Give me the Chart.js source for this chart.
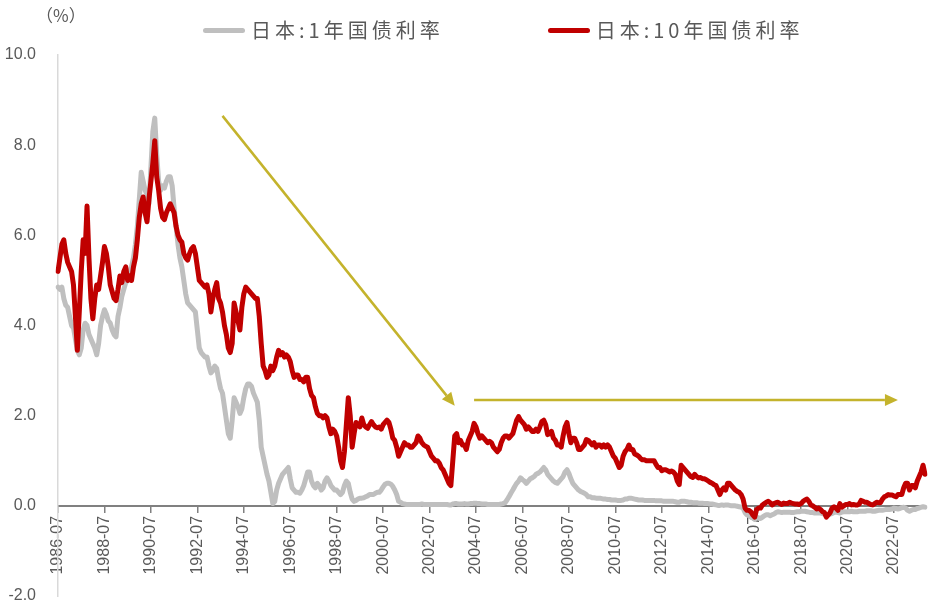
<!DOCTYPE html>
<html>
<head>
<meta charset="utf-8">
<script src="https://cdn.jsdelivr.net/npm/chart.js@4.4.1/dist/chart.umd.min.js"></script>
<style>
  body { margin: 0; background: #fff; }
  #wrap { position: relative; width: 930px; height: 608px; }
  #unit { position: absolute; left: 36px; top: 2px; font: 17px "Noto Sans CJK SC"; color: #595959; }
  #legend { position: absolute; left: 203px; top: 17px; display: flex; align-items: center;
            font: 20px "Noto Sans CJK SC"; color: #595959; line-height: 26px; }
  .item { display: flex; align-items: center; margin-right: 104px; }
  .swatch { display: inline-block; width: 42px; height: 5px; border-radius: 3px; margin-right: 6px; }
  .txt { letter-spacing: 4px; }
</style>
</head>
<body>
<div id="wrap">
  <canvas id="chart" width="930" height="608"></canvas>
  <div id="unit">（%）</div>
  <div id="legend"></div>
</div>
<script>
// 月度数据：1986-07 至 2023-11
const startYear = 1986, startMonth = 7;
const endYear = 2023, endMonth = 11;

const seriesNames = ["日本:1年国债利率", "日本:10年国债利率"];
const seriesColors = ["#bfbfbf", "#c00000"];

const yTicks = [-2, 0, 2, 4, 6, 8, 10];

// 日本:1年国债利率
const jgb1y = [
  4.85, 4.8, 4.85, 4.6, 4.45, 4.4,                              // 1986
  4.2, 4.0, 3.95, 3.7, 3.45, 3.35, 3.5, 3.9, 4.05, 4.0, 3.8, 3.7, // 1987
  3.6, 3.5, 3.35, 3.6, 4.0, 4.2, 4.35, 4.25, 4.1, 4.05, 3.9, 3.8, // 1988
  3.75, 4.2, 4.4, 4.65, 4.8, 4.95, 5.0, 5.2, 5.3, 5.5, 5.8, 6.2,  // 1989
  6.8, 7.4, 7.2, 7.0, 6.9, 6.7, 7.5, 8.3, 8.6, 7.8, 7.2, 7.0,     // 1990
  7.1, 7.05, 7.2, 7.3, 7.3, 7.1, 6.6, 6.2, 5.8, 5.5, 5.3, 5.0,    // 1991
  4.7, 4.5, 4.45, 4.4, 4.35, 4.3, 3.9, 3.5, 3.4, 3.35, 3.3, 3.3,  // 1992
  3.1, 2.95, 3.0, 3.1, 3.05, 2.8, 2.6, 2.5, 2.2, 1.9, 1.6, 1.5,   // 1993
  1.9, 2.4, 2.3, 2.2, 2.05, 2.15, 2.4, 2.6, 2.7, 2.7, 2.65, 2.5,  // 1994
  2.4, 2.3, 1.9, 1.3, 1.1, 0.9, 0.7, 0.55, 0.3, 0.05, 0.1, 0.35,  // 1995
  0.5, 0.6, 0.7, 0.75, 0.8, 0.85, 0.6, 0.4, 0.35, 0.3, 0.3, 0.28, // 1996
  0.35, 0.45, 0.6, 0.75, 0.75, 0.55, 0.45, 0.4, 0.5, 0.45, 0.35, 0.4, // 1997
  0.55, 0.62, 0.55, 0.45, 0.4, 0.35, 0.35, 0.3, 0.25, 0.3, 0.45, 0.55, // 1998
  0.5, 0.3, 0.15, 0.1, 0.12, 0.15, 0.17, 0.17, 0.18, 0.2, 0.22, 0.25, // 1999
  0.25, 0.25, 0.28, 0.3, 0.3, 0.35, 0.42, 0.48, 0.5, 0.5, 0.48, 0.43, // 2000
  0.35, 0.25, 0.1, 0.08, 0.05, 0.04, 0.03, 0.03, 0.03, 0.03, 0.03, 0.03, // 2001
  0.03, 0.03, 0.04, 0.03, 0.03, 0.03, 0.03, 0.03, 0.03, 0.03, 0.03, 0.03, // 2002
  0.03, 0.03, 0.03, 0.03, 0.02, 0.02, 0.04, 0.05, 0.05, 0.04, 0.04, 0.04, // 2003
  0.05, 0.04, 0.04, 0.05, 0.05, 0.06, 0.06, 0.05, 0.05, 0.04, 0.04, 0.04, // 2004
  0.03, 0.03, 0.03, 0.03, 0.03, 0.03, 0.03, 0.04, 0.05, 0.07, 0.13, 0.2,  // 2005
  0.28, 0.35, 0.43, 0.5, 0.55, 0.62, 0.58, 0.55, 0.5, 0.55, 0.6, 0.62,    // 2006
  0.65, 0.7, 0.72, 0.75, 0.8, 0.85, 0.8, 0.7, 0.65, 0.6, 0.55, 0.52,      // 2007
  0.5, 0.55, 0.6, 0.65, 0.75, 0.8, 0.72, 0.6, 0.5, 0.45, 0.4, 0.35,       // 2008
  0.32, 0.3, 0.28, 0.25, 0.2, 0.2, 0.18, 0.18, 0.17, 0.17, 0.17, 0.16,    // 2009
  0.15, 0.15, 0.14, 0.14, 0.13, 0.13, 0.13, 0.12, 0.12, 0.12, 0.13, 0.15, // 2010
  0.15, 0.17, 0.17, 0.16, 0.15, 0.14, 0.13, 0.13, 0.13, 0.12, 0.12, 0.12, // 2011
  0.12, 0.12, 0.12, 0.11, 0.11, 0.11, 0.11, 0.1, 0.1, 0.1, 0.1, 0.1,      // 2012
  0.1, 0.09, 0.08, 0.08, 0.1, 0.1, 0.1, 0.09, 0.08, 0.08, 0.07, 0.07,     // 2013
  0.07, 0.06, 0.06, 0.06, 0.05, 0.05, 0.05, 0.04, 0.04, 0.03, 0.02, 0.01, // 2014
  0.01, 0.02, 0.01, 0.02, 0.02, 0.01, 0.0, 0.0, 0.0, -0.01, -0.02, -0.03, // 2015
  -0.05, -0.15, -0.2, -0.22, -0.25, -0.27, -0.3, -0.25, -0.27, -0.28, -0.25, -0.22, // 2016
  -0.2, -0.2, -0.22, -0.2, -0.18, -0.15, -0.13, -0.14, -0.15, -0.14, -0.14, -0.14,  // 2017
  -0.14, -0.15, -0.15, -0.14, -0.13, -0.13, -0.12, -0.12, -0.12, -0.13, -0.14, -0.15, // 2018
  -0.15, -0.16, -0.16, -0.16, -0.16, -0.17, -0.18, -0.22, -0.2, -0.18, -0.17, -0.15,  // 2019
  -0.14, -0.15, -0.16, -0.14, -0.13, -0.13, -0.13, -0.13, -0.12, -0.13, -0.13, -0.13, // 2020
  -0.12, -0.12, -0.12, -0.12, -0.11, -0.11, -0.11, -0.12, -0.12, -0.11, -0.1, -0.1,   // 2021
  -0.1, -0.09, -0.08, -0.08, -0.08, -0.07, -0.05, -0.06, -0.07, -0.06, -0.04, -0.03,  // 2022
  -0.05, -0.1, -0.12, -0.1, -0.08, -0.08, -0.06, -0.05, -0.03, -0.02, -0.03           // 2023
];

// 日本:10年国债利率
const jgb10y = [
  5.2, 5.5, 5.8, 5.9, 5.6, 5.4,                                  // 1986
  5.3, 5.2, 4.9, 4.2, 3.45, 4.3, 5.2, 5.9, 5.6, 6.65, 5.5, 4.6,   // 1987
  4.15, 4.6, 4.9, 4.8, 5.1, 5.4, 5.75, 5.6, 5.3, 4.9, 4.75, 4.6,  // 1988
  4.55, 4.8, 5.1, 4.95, 5.2, 5.3, 5.0, 5.1, 5.0, 5.3, 5.5, 5.9,   // 1989
  6.4, 6.7, 6.85, 6.5, 6.3, 6.8, 7.2, 7.6, 8.1, 7.3, 7.0, 6.6,    // 1990
  6.4, 6.35, 6.5, 6.6, 6.7, 6.6, 6.5, 6.2, 6.0, 5.9, 5.85, 5.6,   // 1991
  5.5, 5.45, 5.6, 5.7, 5.75, 5.6, 5.3, 5.0, 4.95, 4.9, 4.85, 4.9, // 1992
  4.7, 4.3, 4.6, 4.8, 4.95, 4.6, 4.5, 4.3, 4.0, 3.8, 3.5, 3.4,    // 1993
  3.6, 4.5, 4.3, 4.1, 3.9, 4.4, 4.7, 4.85, 4.8, 4.75, 4.7, 4.65,  // 1994
  4.6, 4.6, 4.2, 3.6, 3.1, 3.0, 2.85, 2.9, 3.1, 3.0, 3.1, 3.3,    // 1995
  3.45, 3.35, 3.4, 3.3, 3.35, 3.3, 3.2, 3.0, 2.85, 2.9, 2.9, 2.8, // 1996
  2.8, 2.75, 2.85, 2.85, 2.6, 2.45, 2.4, 2.2, 2.05, 2.0, 2.0, 1.95, // 1997
  2.0, 1.95, 1.75, 1.6, 1.7, 1.65, 1.55, 1.3, 1.0, 0.85, 1.2, 1.8,  // 1998
  2.4, 2.0, 1.3, 1.6, 1.85, 1.8, 1.75, 1.95, 1.8, 1.75, 1.72, 1.8,  // 1999
  1.87, 1.8, 1.75, 1.73, 1.75, 1.7, 1.8, 1.85, 1.9, 1.85, 1.7, 1.5, // 2000
  1.45, 1.3, 1.1, 1.2, 1.3, 1.4, 1.35, 1.35, 1.3, 1.3, 1.35, 1.4,   // 2001
  1.55, 1.5, 1.4, 1.35, 1.32, 1.3, 1.2, 1.1, 1.05, 1.0, 1.0, 0.95,  // 2002
  0.85, 0.8, 0.7, 0.6, 0.5, 0.45, 1.0, 1.55, 1.6, 1.4, 1.45, 1.35,  // 2003
  1.35, 1.25, 1.45, 1.55, 1.65, 1.83, 1.75, 1.6, 1.5, 1.55, 1.5, 1.45, // 2004
  1.4, 1.43, 1.4, 1.3, 1.25, 1.2, 1.25, 1.4, 1.5, 1.55, 1.55, 1.5,  // 2005
  1.55, 1.6, 1.75, 1.9, 1.98, 1.9, 1.85, 1.8, 1.7, 1.75, 1.7, 1.65, // 2006
  1.65, 1.7, 1.65, 1.75, 1.87, 1.9, 1.8, 1.58, 1.6, 1.65, 1.5, 1.45, // 2007
  1.35, 1.35, 1.3, 1.55, 1.75, 1.85, 1.6, 1.4, 1.5, 1.5, 1.4, 1.25, // 2008
  1.25, 1.3, 1.35, 1.47, 1.45, 1.4, 1.35, 1.4, 1.3, 1.35, 1.35, 1.3, // 2009
  1.35, 1.3, 1.35, 1.3, 1.2, 1.1, 1.05, 0.95, 0.85, 0.9, 1.1, 1.2,  // 2010
  1.25, 1.35, 1.25, 1.25, 1.15, 1.13, 1.1, 1.05, 1.02, 1.02, 1.0, 1.0, // 2011
  1.0, 1.0, 1.0, 0.92, 0.85, 0.85, 0.78, 0.8, 0.8, 0.78, 0.75, 0.77, // 2012
  0.75, 0.7, 0.55, 0.47, 0.9, 0.85, 0.8, 0.75, 0.7, 0.65, 0.63, 0.7, // 2013
  0.65, 0.62, 0.63, 0.6, 0.6, 0.58, 0.55, 0.52, 0.5, 0.47, 0.45, 0.35, // 2014
  0.25, 0.35, 0.4, 0.35, 0.5, 0.5, 0.45, 0.4, 0.35, 0.32, 0.3, 0.25,  // 2015
  0.15, -0.05, -0.1, -0.1, -0.13, -0.2, -0.25, -0.08, -0.05, -0.05, 0.02, 0.05, // 2016
  0.08, 0.1, 0.07, 0.02, 0.05, 0.07, 0.08, 0.05, 0.03, 0.06, 0.05, 0.05, // 2017
  0.08, 0.06, 0.05, 0.04, 0.04, 0.03, 0.05, 0.1, 0.13, 0.15, 0.1, 0.02,  // 2018
  0.0, -0.03, -0.07, -0.05, -0.08, -0.13, -0.15, -0.25, -0.2, -0.15, -0.05, -0.02, // 2019
  -0.05, -0.1, 0.05, -0.03, 0.0, 0.03, 0.03, 0.05, 0.02, 0.03, 0.02, 0.02, // 2020
  0.04, 0.12, 0.1, 0.08, 0.08, 0.05, 0.03, 0.02, 0.05, 0.08, 0.07, 0.07,   // 2021
  0.15, 0.2, 0.22, 0.25, 0.24, 0.24, 0.22, 0.2, 0.25, 0.25, 0.25, 0.4,     // 2022
  0.5, 0.5, 0.35, 0.45, 0.45, 0.4, 0.55, 0.65, 0.75, 0.9, 0.7              // 2023
];

// 箭头标注（起点月份、起点值、终点月份、终点值）
const arrowFromMonth = ["1993-08", "2004-06"];
const arrowFromValue = [8.65, 2.35];
const arrowToMonth = ["2003-08", "2022-09"];
const arrowToValue = [2.22, 2.35];

const months = [];
for (let y = startYear, m = startMonth; y < endYear || (y === endYear && m <= endMonth); ) {
  months.push(y + "-" + String(m).padStart(2, "0"));
  m++;
  if (m > 12) { m = 1; y++; }
}

// 图例
const legendEl = document.getElementById("legend");
seriesNames.forEach((name, i) => {
  const item = document.createElement("div");
  item.className = "item";
  item.innerHTML = `<span class="swatch" style="background:${seriesColors[i]}"></span><span class="txt">${name}</span>`;
  legendEl.appendChild(item);
});

const arrowPlugin = {
  id: "arrows",
  afterDatasetsDraw(chart) {
    const { ctx, scales: { x, y } } = chart;
    ctx.save();
    ctx.strokeStyle = "#c4b32c";
    ctx.fillStyle = "#c4b32c";
    ctx.lineWidth = 2.5;
    for (let i = 0; i < arrowFromMonth.length; i++) {
      const x1 = x.getPixelForValue(months.indexOf(arrowFromMonth[i]));
      const y1 = y.getPixelForValue(arrowFromValue[i]);
      const x2 = x.getPixelForValue(months.indexOf(arrowToMonth[i]));
      const y2 = y.getPixelForValue(arrowToValue[i]);
      const ang = Math.atan2(y2 - y1, x2 - x1);
      const head = 13, half = 6;
      const bx = x2 - head * Math.cos(ang), by = y2 - head * Math.sin(ang);
      ctx.beginPath();
      ctx.moveTo(x1, y1);
      ctx.lineTo(bx, by);
      ctx.stroke();
      ctx.beginPath();
      ctx.moveTo(x2, y2);
      ctx.lineTo(bx + half * Math.sin(ang), by - half * Math.cos(ang));
      ctx.lineTo(bx - half * Math.sin(ang), by + half * Math.cos(ang));
      ctx.closePath();
      ctx.fill();
    }
    ctx.restore();
  }
};

Chart.defaults.font.family = "Liberation Sans";
Chart.defaults.font.size = 16;
Chart.defaults.color = "#595959";

new Chart(document.getElementById("chart"), {
  type: "line",
  data: {
    labels: months,
    datasets: [
      {
        label: seriesNames[1],
        data: jgb10y,
        borderColor: seriesColors[1],
        borderWidth: 5,
        order: 0
      },
      {
        label: seriesNames[0],
        data: jgb1y,
        borderColor: seriesColors[0],
        borderWidth: 5,
        order: 1
      }
    ]
  },
  options: {
    responsive: false,
    animation: false,
    devicePixelRatio: 1,
    elements: {
      point: { radius: 0 },
      line: { tension: 0, borderJoinStyle: "round", borderCapStyle: "round" }
    },
    layout: { padding: { top: 55, left: 5, right: 5, bottom: 12 } },
    scales: {
      x: {
        position: { y: 0 },
        afterFit: (axis) => {
          axis.paddingLeft = 0;
          axis.paddingRight = 0;
          axis.paddingTop = 0;
          axis.paddingBottom = 0;
        },
        ticks: {
          autoSkip: false,
          minRotation: 90,
          maxRotation: 90,
          padding: 4,
          font: { family: "Liberation Sans", size: 16 },
          callback: (val, i) => (i % 24 === 0 ? months[i] : "")
        },
        grid: {
          drawOnChartArea: false,
          drawTicks: true,
          tickLength: 6,
          lineWidth: 1.5,
          color: (c) => (c.index % 24 === 0 ? "#808080" : "rgba(0,0,0,0)")
        },
        border: { display: true, color: "#808080", width: 2 }
      },
      y: {
        min: -2,
        max: 10,
        afterBuildTicks: (axis) => { axis.ticks = yTicks.map(v => ({ value: v })); },
        afterFit: (axis) => {
          axis.width = 53;
          axis.paddingTop = 0;
          axis.paddingBottom = 0;
        },
        ticks: {
          padding: 22,
          font: { family: "Liberation Sans", size: 16 },
          callback: (v) => v.toFixed(1)
        },
        grid: { display: false, drawTicks: false },
        border: { display: true, color: "#d9d9d9", width: 1.5 }
      }
    },
    plugins: {
      legend: { display: false },
      tooltip: { enabled: false }
    }
  },
  plugins: [arrowPlugin]
});
</script>
</body>
</html>
